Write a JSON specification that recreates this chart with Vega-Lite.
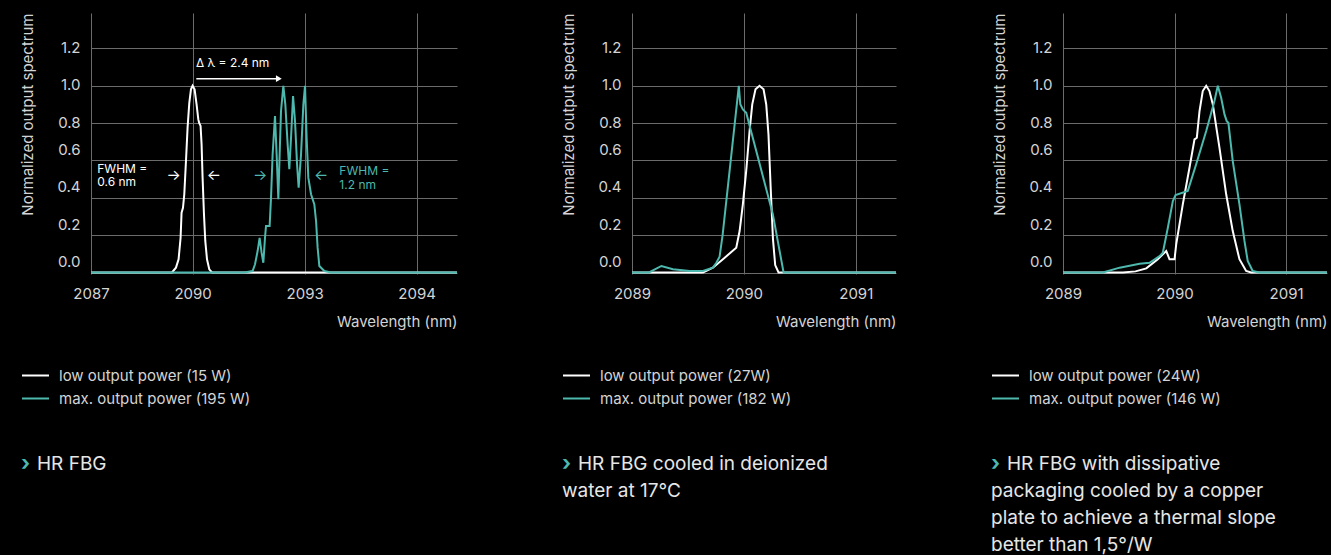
{
  "$schema": "https://vega.github.io/schema/vega-lite/v6.json",
  "background": "#000000",
  "padding": {"left": 20, "top": 12, "right": 0, "bottom": 0},
  "config": {
    "font": "Inter",
    "view": {"stroke": null},
    "axis": {"grid": true, "gridColor": "#6b6b6b", "gridWidth": 1, "domain": false, "ticks": false, "labelFont": "Inter", "labelFontSize": 15, "labelColor": "#d4d4d4", "titleFont": "Inter", "titleFontSize": 15, "titleFontWeight": "normal", "titleColor": "#d4d4d4", "labelOverlap": false},
    "axisX": {"labelPadding": 12, "labelFlush": false, "titleAnchor": "end", "titlePadding": 13},
    "axisY": {"labelPadding": 11, "titleAnchor": "end", "titlePadding": 21},
    "legend": {"orient": "none", "symbolType": "stroke", "symbolStrokeWidth": 2, "symbolSize": 729, "labelFont": "Inter", "labelFontSize": 15, "labelColor": "#d4d4d4", "labelOffset": 9, "labelLimit": 400, "rowPadding": -2, "padding": 0}
  },
  "datasets": {
    "p1": [
      {"nm": 2087.28, "v": 0, "s": "low output power (15 W)"},
      {"nm": 2089.448, "v": 0, "s": "low output power (15 W)"},
      {"nm": 2089.555, "v": 0.026, "s": "low output power (15 W)"},
      {"nm": 2089.625, "v": 0.071, "s": "low output power (15 W)"},
      {"nm": 2089.679, "v": 0.186, "s": "low output power (15 W)"},
      {"nm": 2089.705, "v": 0.32, "s": "low output power (15 W)"},
      {"nm": 2089.743, "v": 0.347, "s": "low output power (15 W)"},
      {"nm": 2089.778, "v": 0.419, "s": "low output power (15 W)"},
      {"nm": 2089.823, "v": 0.597, "s": "low output power (15 W)"},
      {"nm": 2089.866, "v": 0.776, "s": "low output power (15 W)"},
      {"nm": 2089.912, "v": 0.909, "s": "low output power (15 W)"},
      {"nm": 2089.957, "v": 0.981, "s": "low output power (15 W)"},
      {"nm": 2090.0, "v": 1.0, "s": "low output power (15 W)"},
      {"nm": 2090.054, "v": 0.981, "s": "low output power (15 W)"},
      {"nm": 2090.107, "v": 0.9, "s": "low output power (15 W)"},
      {"nm": 2090.153, "v": 0.82, "s": "low output power (15 W)"},
      {"nm": 2090.179, "v": 0.8, "s": "low output power (15 W)"},
      {"nm": 2090.214, "v": 0.785, "s": "low output power (15 W)"},
      {"nm": 2090.241, "v": 0.687, "s": "low output power (15 W)"},
      {"nm": 2090.268, "v": 0.508, "s": "low output power (15 W)"},
      {"nm": 2090.305, "v": 0.312, "s": "low output power (15 W)"},
      {"nm": 2090.34, "v": 0.169, "s": "low output power (15 W)"},
      {"nm": 2090.386, "v": 0.071, "s": "low output power (15 W)"},
      {"nm": 2090.447, "v": 0.017, "s": "low output power (15 W)"},
      {"nm": 2090.52, "v": 0, "s": "low output power (15 W)"},
      {"nm": 2097.08, "v": 0, "s": "low output power (15 W)"},
      {"nm": 2087.28, "v": 0, "s": "max. output power (195 W)"},
      {"nm": 2091.385, "v": 0, "s": "max. output power (195 W)"},
      {"nm": 2091.607, "v": 0.008, "s": "max. output power (195 W)"},
      {"nm": 2091.672, "v": 0.044, "s": "max. output power (195 W)"},
      {"nm": 2091.741, "v": 0.115, "s": "max. output power (195 W)"},
      {"nm": 2091.795, "v": 0.186, "s": "max. output power (195 W)"},
      {"nm": 2091.848, "v": 0.106, "s": "max. output power (195 W)"},
      {"nm": 2091.894, "v": 0.052, "s": "max. output power (195 W)"},
      {"nm": 2091.939, "v": 0.186, "s": "max. output power (195 W)"},
      {"nm": 2091.966, "v": 0.249, "s": "max. output power (195 W)"},
      {"nm": 2092.063, "v": 0.249, "s": "max. output power (195 W)"},
      {"nm": 2092.1, "v": 0.4, "s": "max. output power (195 W)"},
      {"nm": 2092.143, "v": 0.633, "s": "max. output power (195 W)"},
      {"nm": 2092.207, "v": 0.838, "s": "max. output power (195 W)"},
      {"nm": 2092.25, "v": 0.633, "s": "max. output power (195 W)"},
      {"nm": 2092.296, "v": 0.392, "s": "max. output power (195 W)"},
      {"nm": 2092.331, "v": 0.633, "s": "max. output power (195 W)"},
      {"nm": 2092.368, "v": 0.865, "s": "max. output power (195 W)"},
      {"nm": 2092.43, "v": 1.0, "s": "max. output power (195 W)"},
      {"nm": 2092.483, "v": 0.901, "s": "max. output power (195 W)"},
      {"nm": 2092.545, "v": 0.687, "s": "max. output power (195 W)"},
      {"nm": 2092.59, "v": 0.553, "s": "max. output power (195 W)"},
      {"nm": 2092.636, "v": 0.722, "s": "max. output power (195 W)"},
      {"nm": 2092.69, "v": 0.945, "s": "max. output power (195 W)"},
      {"nm": 2092.743, "v": 0.811, "s": "max. output power (195 W)"},
      {"nm": 2092.797, "v": 0.58, "s": "max. output power (195 W)"},
      {"nm": 2092.84, "v": 0.454, "s": "max. output power (195 W)"},
      {"nm": 2092.904, "v": 0.633, "s": "max. output power (195 W)"},
      {"nm": 2092.966, "v": 0.901, "s": "max. output power (195 W)"},
      {"nm": 2093.011, "v": 1.0, "s": "max. output power (195 W)"},
      {"nm": 2093.054, "v": 0.722, "s": "max. output power (195 W)"},
      {"nm": 2093.099, "v": 0.508, "s": "max. output power (195 W)"},
      {"nm": 2093.172, "v": 0.419, "s": "max. output power (195 W)"},
      {"nm": 2093.26, "v": 0.365, "s": "max. output power (195 W)"},
      {"nm": 2093.306, "v": 0.276, "s": "max. output power (195 W)"},
      {"nm": 2093.348, "v": 0.133, "s": "max. output power (195 W)"},
      {"nm": 2093.394, "v": 0.035, "s": "max. output power (195 W)"},
      {"nm": 2093.528, "v": 0.008, "s": "max. output power (195 W)"},
      {"nm": 2093.708, "v": 0, "s": "max. output power (195 W)"},
      {"nm": 2097.08, "v": 0, "s": "max. output power (195 W)"}
    ],
    "p2": [
      {"nm": 2089.0, "v": 0, "s": "low output power (27W)"},
      {"nm": 2089.634, "v": 0, "s": "low output power (27W)"},
      {"nm": 2089.723, "v": 0.026, "s": "low output power (27W)"},
      {"nm": 2089.813, "v": 0.071, "s": "low output power (27W)"},
      {"nm": 2089.932, "v": 0.133, "s": "low output power (27W)"},
      {"nm": 2089.962, "v": 0.222, "s": "low output power (27W)"},
      {"nm": 2089.991, "v": 0.365, "s": "low output power (27W)"},
      {"nm": 2090.021, "v": 0.544, "s": "low output power (27W)"},
      {"nm": 2090.051, "v": 0.758, "s": "low output power (27W)"},
      {"nm": 2090.075, "v": 0.901, "s": "low output power (27W)"},
      {"nm": 2090.104, "v": 0.981, "s": "low output power (27W)"},
      {"nm": 2090.14, "v": 1.0, "s": "low output power (27W)"},
      {"nm": 2090.176, "v": 0.981, "s": "low output power (27W)"},
      {"nm": 2090.2, "v": 0.9, "s": "low output power (27W)"},
      {"nm": 2090.22, "v": 0.74, "s": "low output power (27W)"},
      {"nm": 2090.24, "v": 0.45, "s": "low output power (27W)"},
      {"nm": 2090.26, "v": 0.18, "s": "low output power (27W)"},
      {"nm": 2090.28, "v": 0.04, "s": "low output power (27W)"},
      {"nm": 2090.31, "v": 0, "s": "low output power (27W)"},
      {"nm": 2091.36, "v": 0, "s": "low output power (27W)"},
      {"nm": 2089.0, "v": 0, "s": "max. output power (182 W)"},
      {"nm": 2089.152, "v": 0, "s": "max. output power (182 W)"},
      {"nm": 2089.2, "v": 0.015, "s": "max. output power (182 W)"},
      {"nm": 2089.263, "v": 0.035, "s": "max. output power (182 W)"},
      {"nm": 2089.366, "v": 0.017, "s": "max. output power (182 W)"},
      {"nm": 2089.515, "v": 0.008, "s": "max. output power (182 W)"},
      {"nm": 2089.634, "v": 0.008, "s": "max. output power (182 W)"},
      {"nm": 2089.723, "v": 0.026, "s": "max. output power (182 W)"},
      {"nm": 2089.754, "v": 0.052, "s": "max. output power (182 W)"},
      {"nm": 2089.783, "v": 0.085, "s": "max. output power (182 W)"},
      {"nm": 2089.81, "v": 0.2, "s": "max. output power (182 W)"},
      {"nm": 2089.955, "v": 1.0, "s": "max. output power (182 W)"},
      {"nm": 2089.968, "v": 0.901, "s": "max. output power (182 W)"},
      {"nm": 2089.991, "v": 0.874, "s": "max. output power (182 W)"},
      {"nm": 2090.021, "v": 0.856, "s": "max. output power (182 W)"},
      {"nm": 2090.259, "v": 0.312, "s": "max. output power (182 W)"},
      {"nm": 2090.355, "v": 0, "s": "max. output power (182 W)"},
      {"nm": 2091.36, "v": 0, "s": "max. output power (182 W)"}
    ],
    "p3": [
      {"nm": 2089.0, "v": 0, "s": "low output power (24W)"},
      {"nm": 2089.537, "v": 0, "s": "low output power (24W)"},
      {"nm": 2089.65, "v": 0.006, "s": "low output power (24W)"},
      {"nm": 2089.747, "v": 0.022, "s": "low output power (24W)"},
      {"nm": 2089.85, "v": 0.071, "s": "low output power (24W)"},
      {"nm": 2089.895, "v": 0.097, "s": "low output power (24W)"},
      {"nm": 2089.926, "v": 0.115, "s": "low output power (24W)"},
      {"nm": 2089.955, "v": 0.071, "s": "low output power (24W)"},
      {"nm": 2090.0, "v": 0.071, "s": "low output power (24W)"},
      {"nm": 2090.015, "v": 0.151, "s": "low output power (24W)"},
      {"nm": 2090.074, "v": 0.365, "s": "low output power (24W)"},
      {"nm": 2090.134, "v": 0.561, "s": "low output power (24W)"},
      {"nm": 2090.179, "v": 0.713, "s": "low output power (24W)"},
      {"nm": 2090.2, "v": 0.722, "s": "low output power (24W)"},
      {"nm": 2090.224, "v": 0.865, "s": "low output power (24W)"},
      {"nm": 2090.253, "v": 0.972, "s": "low output power (24W)"},
      {"nm": 2090.284, "v": 1.0, "s": "low output power (24W)"},
      {"nm": 2090.313, "v": 0.972, "s": "low output power (24W)"},
      {"nm": 2090.343, "v": 0.901, "s": "low output power (24W)"},
      {"nm": 2090.403, "v": 0.668, "s": "low output power (24W)"},
      {"nm": 2090.463, "v": 0.419, "s": "low output power (24W)"},
      {"nm": 2090.522, "v": 0.222, "s": "low output power (24W)"},
      {"nm": 2090.582, "v": 0.071, "s": "low output power (24W)"},
      {"nm": 2090.642, "v": 0.008, "s": "low output power (24W)"},
      {"nm": 2090.687, "v": 0, "s": "low output power (24W)"},
      {"nm": 2091.367, "v": 0, "s": "low output power (24W)"},
      {"nm": 2089.0, "v": 0, "s": "max. output power (146 W)"},
      {"nm": 2089.358, "v": 0, "s": "max. output power (146 W)"},
      {"nm": 2089.508, "v": 0.026, "s": "max. output power (146 W)"},
      {"nm": 2089.687, "v": 0.047, "s": "max. output power (146 W)"},
      {"nm": 2089.776, "v": 0.052, "s": "max. output power (146 W)"},
      {"nm": 2089.866, "v": 0.088, "s": "max. output power (146 W)"},
      {"nm": 2089.895, "v": 0.106, "s": "max. output power (146 W)"},
      {"nm": 2089.94, "v": 0.24, "s": "max. output power (146 W)"},
      {"nm": 2089.985, "v": 0.383, "s": "max. output power (146 W)"},
      {"nm": 2090.009, "v": 0.415, "s": "max. output power (146 W)"},
      {"nm": 2090.119, "v": 0.437, "s": "max. output power (146 W)"},
      {"nm": 2090.194, "v": 0.58, "s": "max. output power (146 W)"},
      {"nm": 2090.284, "v": 0.758, "s": "max. output power (146 W)"},
      {"nm": 2090.358, "v": 0.919, "s": "max. output power (146 W)"},
      {"nm": 2090.388, "v": 1.0, "s": "max. output power (146 W)"},
      {"nm": 2090.418, "v": 0.936, "s": "max. output power (146 W)"},
      {"nm": 2090.448, "v": 0.847, "s": "max. output power (146 W)"},
      {"nm": 2090.468, "v": 0.811, "s": "max. output power (146 W)"},
      {"nm": 2090.483, "v": 0.802, "s": "max. output power (146 W)"},
      {"nm": 2090.522, "v": 0.597, "s": "max. output power (146 W)"},
      {"nm": 2090.582, "v": 0.365, "s": "max. output power (146 W)"},
      {"nm": 2090.627, "v": 0.169, "s": "max. output power (146 W)"},
      {"nm": 2090.656, "v": 0.062, "s": "max. output power (146 W)"},
      {"nm": 2090.701, "v": 0.008, "s": "max. output power (146 W)"},
      {"nm": 2090.761, "v": 0, "s": "max. output power (146 W)"},
      {"nm": 2091.367, "v": 0, "s": "max. output power (146 W)"}
    ],
    "ann1": [
      {"kind": "wtext", "nm": 2090.09, "v": 1.12, "t": "Δ λ = 2.4 nm"},
      {"kind": "wtext", "nm": 2087.447, "v": 0.554, "t": "FWHM ="},
      {"kind": "wtext", "nm": 2087.447, "v": 0.485, "t": "0.6 nm"},
      {"kind": "ttext", "nm": 2093.93, "v": 0.544, "t": "FWHM ="},
      {"kind": "ttext", "nm": 2093.93, "v": 0.469, "t": "1.2 nm"},
      {"kind": "warrow", "nm": 2089.496, "v": 0.522, "t": "→"},
      {"kind": "warrow", "nm": 2090.568, "v": 0.522, "t": "←"},
      {"kind": "tarrow", "nm": 2091.806, "v": 0.522, "t": "→"},
      {"kind": "tarrow", "nm": 2093.44, "v": 0.522, "t": "←"},
      {"kind": "dl", "nm": 2090.1, "nm2": 2092.3, "v": 1.038},
      {"kind": "tip", "nm": 2092.31, "v": 1.038}
    ]
  },
  "resolve": {"scale": {"color": "independent", "x": "independent", "y": "independent"}, "legend": {"color": "independent"}},
  "spacing": 100,
  "hconcat": [
    {
      "spacing": 46,
      "resolve": {"scale": {"color": "independent"}, "legend": {"color": "independent"}},
      "vconcat": [
        {
          "width": 366,
          "height": 261,
          "layer": [
            {
              "data": {"name": "p1"},
              "mark": {"type": "line", "strokeWidth": 2},
              "encoding": {
                "x": {"field": "nm", "type": "quantitative", "scale": {"domain": [2087.28, 2097.08], "nice": false, "zero": false}, "axis": {"title": "Wavelength (nm)", "values": [2087.28, 2090, 2093, 2096], "labelExpr": "datum.value < 2088 ? '2087' : datum.value > 2095 ? '2094' : format(datum.value, 'd')"}},
                "y": {"field": "v", "type": "quantitative", "scale": {"domain": [-0.008, 1.39], "nice": false, "zero": false}, "axis": {"title": "Normalized output spectrum", "values": [0, 0.2, 0.4, 0.6, 0.8, 1, 1.2], "format": ".1f", "labelOffset": {"condition": {"test": "datum.value < 0.7", "value": -11}, "value": -1}}},
                "color": {"field": "s", "type": "nominal", "scale": {"domain": ["low output power (15 W)", "max. output power (195 W)"], "range": ["#ffffff", "#4db8ad"]}, "legend": {"title": null, "legendX": -70, "legendY": 348}}
              }
            },
            {
              "data": {"name": "ann1"},
              "transform": [{"filter": "datum.kind == 'wtext'"}],
              "mark": {"type": "text", "align": "left", "baseline": "middle", "fontSize": 12, "color": "#ffffff"},
              "encoding": {"x": {"field": "nm", "type": "quantitative"}, "y": {"field": "v", "type": "quantitative"}, "text": {"field": "t"}}
            },
            {
              "data": {"name": "ann1"},
              "transform": [{"filter": "datum.kind == 'ttext'"}],
              "mark": {"type": "text", "align": "left", "baseline": "middle", "fontSize": 12, "color": "#4db8ad"},
              "encoding": {"x": {"field": "nm", "type": "quantitative"}, "y": {"field": "v", "type": "quantitative"}, "text": {"field": "t"}}
            },
            {
              "data": {"name": "ann1"},
              "transform": [{"filter": "datum.kind == 'warrow'"}],
              "mark": {"type": "text", "align": "center", "baseline": "middle", "fontSize": 15, "color": "#ffffff"},
              "encoding": {"x": {"field": "nm", "type": "quantitative"}, "y": {"field": "v", "type": "quantitative"}, "text": {"field": "t"}}
            },
            {
              "data": {"name": "ann1"},
              "transform": [{"filter": "datum.kind == 'tarrow'"}],
              "mark": {"type": "text", "align": "center", "baseline": "middle", "fontSize": 15, "color": "#4db8ad"},
              "encoding": {"x": {"field": "nm", "type": "quantitative"}, "y": {"field": "v", "type": "quantitative"}, "text": {"field": "t"}}
            },
            {
              "data": {"name": "ann1"},
              "transform": [{"filter": "datum.kind == 'dl'"}],
              "mark": {"type": "rule", "color": "#ffffff", "strokeWidth": 1.5},
              "encoding": {"x": {"field": "nm", "type": "quantitative"}, "x2": {"field": "nm2"}, "y": {"field": "v", "type": "quantitative"}}
            },
            {
              "data": {"name": "ann1"},
              "transform": [{"filter": "datum.kind == 'tip'"}],
              "mark": {"type": "point", "shape": "triangle-right", "filled": true, "size": 45, "color": "#ffffff", "opacity": 1},
              "encoding": {"x": {"field": "nm", "type": "quantitative"}, "y": {"field": "v", "type": "quantitative"}}
            }
          ]
        },
        {
          "width": 100,
          "height": 30,
          "data": {"values": [{"chev": "›", "first": "HR FBG", "rest": ""}]},
          "layer": [
            {"mark": {"type": "text", "align": "left", "baseline": "top", "fontSize": 21, "fontWeight": "bold", "color": "#4db8ad"}, "encoding": {"text": {"field": "chev"}, "x": {"value": -70}, "y": {"value": -2}}},
            {"mark": {"type": "text", "align": "left", "baseline": "top", "fontSize": 19, "dx": 16, "color": "#e6e6e6"}, "encoding": {"text": {"field": "first"}, "x": {"value": -70}, "y": {"value": 0}}}
          ]
        }
      ]
    },
    {
      "spacing": 91,
      "resolve": {"scale": {"color": "independent", "x": "independent", "y": "independent"}, "legend": {"color": "independent"}},
      "hconcat": [
        {
          "spacing": 46,
          "resolve": {"scale": {"color": "independent"}, "legend": {"color": "independent"}},
          "vconcat": [
            {
              "width": 264,
              "height": 261,
              "data": {"name": "p2"},
              "mark": {"type": "line", "strokeWidth": 2},
              "encoding": {
                "x": {"field": "nm", "type": "quantitative", "scale": {"domain": [2089, 2091.36], "nice": false, "zero": false}, "axis": {"title": "Wavelength (nm)", "values": [2089, 2090, 2091], "format": "d"}},
                "y": {"field": "v", "type": "quantitative", "scale": {"domain": [-0.008, 1.39], "nice": false, "zero": false}, "axis": {"title": "Normalized output spectrum", "values": [0, 0.2, 0.4, 0.6, 0.8, 1, 1.2], "format": ".1f", "labelOffset": {"condition": {"test": "datum.value < 0.7", "value": -11}, "value": -1}}},
                "color": {"field": "s", "type": "nominal", "scale": {"domain": ["low output power (27W)", "max. output power (182 W)"], "range": ["#ffffff", "#4db8ad"]}, "legend": {"title": null, "legendX": -70, "legendY": 348}}
              }
            },
            {
              "width": 100,
              "height": 30,
              "data": {"values": [{"chev": "›", "first": "HR FBG cooled in deionized", "rest": "water at 17°C"}]},
              "layer": [
                {"mark": {"type": "text", "align": "left", "baseline": "top", "fontSize": 21, "fontWeight": "bold", "color": "#4db8ad"}, "encoding": {"text": {"field": "chev"}, "x": {"value": -70}, "y": {"value": -2}}},
                {"mark": {"type": "text", "align": "left", "baseline": "top", "fontSize": 19, "dx": 16, "color": "#e6e6e6"}, "encoding": {"text": {"field": "first"}, "x": {"value": -70}, "y": {"value": 0}}},
                {"mark": {"type": "text", "align": "left", "baseline": "top", "fontSize": 19, "lineHeight": 27, "lineBreak": "\n", "color": "#e6e6e6"}, "encoding": {"text": {"field": "rest"}, "x": {"value": -70}, "y": {"value": 27}}}
              ]
            }
          ]
        },
        {
          "spacing": 46,
          "resolve": {"scale": {"color": "independent"}, "legend": {"color": "independent"}},
          "vconcat": [
            {
              "width": 264,
              "height": 261,
              "data": {"name": "p3"},
              "mark": {"type": "line", "strokeWidth": 2},
              "encoding": {
                "x": {"field": "nm", "type": "quantitative", "scale": {"domain": [2089, 2091.367], "nice": false, "zero": false}, "axis": {"title": "Wavelength (nm)", "values": [2089, 2090, 2091], "format": "d"}},
                "y": {"field": "v", "type": "quantitative", "scale": {"domain": [-0.008, 1.39], "nice": false, "zero": false}, "axis": {"title": "Normalized output spectrum", "values": [0, 0.2, 0.4, 0.6, 0.8, 1, 1.2], "format": ".1f", "labelOffset": {"condition": {"test": "datum.value < 0.7", "value": -11}, "value": -1}}},
                "color": {"field": "s", "type": "nominal", "scale": {"domain": ["low output power (24W)", "max. output power (146 W)"], "range": ["#ffffff", "#4db8ad"]}, "legend": {"title": null, "legendX": -72, "legendY": 348}}
              }
            },
            {
              "width": 100,
              "height": 30,
              "data": {"values": [{"chev": "›", "first": "HR FBG with dissipative", "rest": "packaging cooled by a copper\nplate to achieve a thermal slope\nbetter than 1,5°/W"}]},
              "layer": [
                {"mark": {"type": "text", "align": "left", "baseline": "top", "fontSize": 21, "fontWeight": "bold", "color": "#4db8ad"}, "encoding": {"text": {"field": "chev"}, "x": {"value": -72}, "y": {"value": -2}}},
                {"mark": {"type": "text", "align": "left", "baseline": "top", "fontSize": 19, "dx": 16, "color": "#e6e6e6"}, "encoding": {"text": {"field": "first"}, "x": {"value": -72}, "y": {"value": 0}}},
                {"mark": {"type": "text", "align": "left", "baseline": "top", "fontSize": 19, "lineHeight": 27, "lineBreak": "\n", "color": "#e6e6e6"}, "encoding": {"text": {"field": "rest"}, "x": {"value": -72}, "y": {"value": 27}}}
              ]
            }
          ]
        }
      ]
    }
  ]
}
